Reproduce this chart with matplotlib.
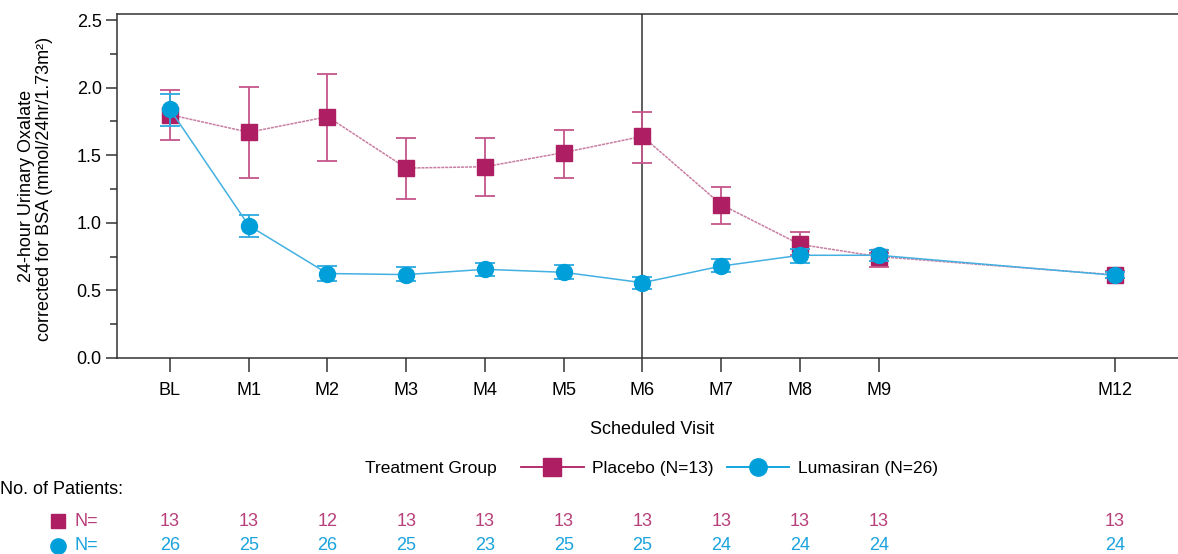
import matplotlib
matplotlib.use("Agg")
import matplotlib.pyplot as plt
from matplotlib.lines import Line2D
from matplotlib.transforms import blended_transform_factory

plt.rcParams['font.family'] = ['Liberation Sans', 'DejaVu Sans']

visits = ["BL", "M1", "M2", "M3", "M4", "M5", "M6", "M7", "M8", "M9", "M12"]
months = [0, 1, 2, 3, 4, 5, 6, 7, 8, 9, 12]

placebo_mean = [1.80, 1.67, 1.785, 1.405, 1.415, 1.52, 1.64, 1.135, 0.84, 0.75, 0.615]
placebo_lo = [1.61, 1.33, 1.455, 1.175, 1.195, 1.33, 1.445, 0.995, 0.76, 0.67, 0.59]
placebo_hi = [1.985, 2.005, 2.10, 1.625, 1.625, 1.69, 1.82, 1.265, 0.93, 0.78, 0.64]

luma_mean = [1.84, 0.98, 0.625, 0.617, 0.656, 0.634, 0.557, 0.68, 0.76, 0.76, 0.612]
luma_lo = [1.715, 0.897, 0.572, 0.566, 0.607, 0.582, 0.513, 0.634, 0.705, 0.72, 0.59]
luma_hi = [1.95, 1.058, 0.68, 0.67, 0.705, 0.69, 0.60, 0.732, 0.804, 0.80, 0.635]

placebo_n = [13, 13, 12, 13, 13, 13, 13, 13, 13, 13, 13]
luma_n = [26, 25, 26, 25, 23, 25, 25, 24, 24, 24, 24]

PL = '#AE1E62'
PL_ERR = '#C4568A'
PL_LINE = '#C87FA2'
LU = '#009FDA'
LU_ERR = '#2BAAE0'
LU_LINE = '#43B0E2'
NUM_PL = '#B8407A'
NUM_LU = '#1AA3DD'

FS = 13

W, H = 1178, 554
fig = plt.figure(figsize=(W / 100, H / 100), dpi=100)
ax = fig.add_axes([117 / W, 1 - 358 / H, 1 - 117 / W + 0.01, (358 - 14) / H])

ax.set_xlim(-0.673, 12.95)
ax.set_ylim(0, 2.545)

ax.axvline(6, color='#333333', lw=1.1, zorder=1)

# placebo
pl_err = [[m - l for m, l in zip(placebo_mean, placebo_lo)],
          [h - m for m, h in zip(placebo_mean, placebo_hi)]]
ax.errorbar(months, placebo_mean, yerr=pl_err, fmt='none', ecolor=PL_ERR,
            elinewidth=1.3, capsize=7.5, capthick=1.3, zorder=2)
ax.plot(months, placebo_mean, color=PL_LINE, lw=1.1, ls=(0, (2, 0.6)), zorder=2)
ax.plot(months, placebo_mean, ls='none', marker='s', ms=11.5, color=PL, zorder=3)

# lumasiran
lu_err = [[m - l for m, l in zip(luma_mean, luma_lo)],
          [h - m for m, h in zip(luma_mean, luma_hi)]]
ax.errorbar(months, luma_mean, yerr=lu_err, fmt='none', ecolor=LU_ERR,
            elinewidth=1.3, capsize=7.5, capthick=1.3, zorder=4)
ax.plot(months, luma_mean, color=LU_LINE, lw=1.1, zorder=4)
ax.plot(months, luma_mean, ls='none', marker='o', ms=11.5, color=LU, zorder=5)

ax.spines['right'].set_visible(False)
for s in ['left', 'top', 'bottom']:
    ax.spines[s].set_color('#333333')
    ax.spines[s].set_linewidth(1.1)

ax.set_xticks(months)
ax.set_xticklabels(visits, fontsize=FS)
ax.set_yticks([0, 0.5, 1.0, 1.5, 2.0, 2.5])
ax.set_yticklabels(["0.0", "0.5", "1.0", "1.5", "2.0", "2.5"], fontsize=FS)
ax.set_yticks([0.25, 0.75, 1.25, 1.75, 2.25], minor=True)
ax.tick_params(axis='x', direction='out', length=10, width=1.1, color='#333333', pad=7)
ax.tick_params(axis='y', which='major', direction='out', length=8, width=1.1, color='#333333', pad=3)
ax.tick_params(axis='y', which='minor', direction='out', length=5, width=1.1, color='#333333')

fig.text(652 / W, 1 - 430 / H, "Scheduled Visit", fontsize=FS, ha='center', va='center')

fig.text(27 / W, 1 - 186 / H, "24-hour Urinary Oxalate", fontsize=13, rotation=90,
         ha='center', va='center')
fig.text(45 / W, 1 - 189 / H, "corrected for BSA (mmol/24hr/1.73m²)", fontsize=13,
         rotation=90, ha='center', va='center')

# legend
fig.text(365 / W, 1 - 468 / H, "Treatment Group", fontsize=12.5, ha='left', va='center')
handles = [Line2D([], [], color=PL, lw=1.3, marker='s', ms=12.5),
           Line2D([], [], color=LU, lw=1.3, marker='o', ms=12.5)]
fig.legend(handles, ["Placebo (N=13)", "Lumasiran (N=26)"], loc='center left',
           bbox_to_anchor=(521 / W, 1 - 468 / H), ncol=2, frameon=False,
           fontsize=12.5, handlelength=3.6, handletextpad=0.5, columnspacing=0.75,
           borderpad=0, borderaxespad=0)

# patients table
fig.text(0 / W, 1 - 490 / H, "No. of Patients:", fontsize=FS, ha='left', va='center')
y1 = 1 - 521 / H
y2 = 1 - 546 / H
fig.add_artist(Line2D([58 / W], [y1], marker='s', ms=10, color=PL, transform=fig.transFigure))
fig.add_artist(Line2D([58 / W], [y2], marker='o', ms=11, color=LU, transform=fig.transFigure))
fig.text(75 / W, y1, "N=", fontsize=FS, color=NUM_PL, ha='left', va='center')
fig.text(75 / W, y2, "N=", fontsize=FS, color=NUM_LU, ha='left', va='center')
tr = blended_transform_factory(ax.transData, fig.transFigure)
for m, n1, n2 in zip(months, placebo_n, luma_n):
    fig.text(m, y1, str(n1), transform=tr, fontsize=FS, color=NUM_PL, ha='center', va='center')
    fig.text(m, y2, str(n2), transform=tr, fontsize=FS, color=NUM_LU, ha='center', va='center')

fig.savefig("out.png", dpi=100)
